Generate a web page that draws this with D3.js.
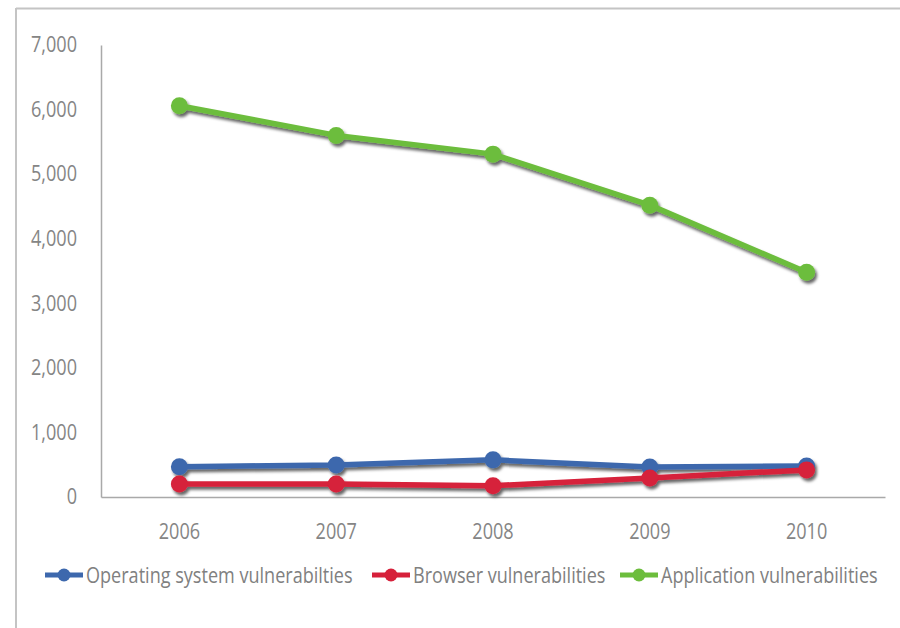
<!DOCTYPE html>
<html>
<head>
<meta charset="utf-8">
<script src="https://cdn.jsdelivr.net/npm/d3@7"></script>
<style>
  body { margin: 0; background: #fff; }
  svg { display: block; }
  text { font-family: "Open Sans", "DejaVu Sans", sans-serif; fill: #858585; }
</style>
</head>
<body>
<svg id="chart" width="900" height="628"></svg>
<script>
// Vulnerabilities per year, by type
const years = ["2006", "2007", "2008", "2009", "2010"];
const osValues = [470, 495, 575, 465, 480];
const browserValues = [200, 200, 175, 295, 420];
const appValues = [6060, 5600, 5310, 4520, 3480];
const yTicks = [0, 1000, 2000, 3000, 4000, 5000, 6000, 7000];
const seriesNames = ["Operating system vulnerabilties", "Browser vulnerabilities", "Application vulnerabilities"];
const seriesColors = ["#3d68ad", "#d6203a", "#6cbd3c"];

const series = [
  { name: seriesNames[0], color: seriesColors[0], values: osValues },
  { name: seriesNames[1], color: seriesColors[1], values: browserValues },
  { name: seriesNames[2], color: seriesColors[2], values: appValues }
];

const svg = d3.select("#chart");

// Narrow the text horizontally for a condensed look
function condense(sel, factor) {
  sel.each(function () {
    const w = this.getComputedTextLength();
    d3.select(this).attr("textLength", w * factor).attr("lengthAdjust", "spacingAndGlyphs");
  });
}

// Soft drop shadow under lines and markers
const defs = svg.append("defs");
const f = defs.append("filter").attr("id", "shadow")
  .attr("x", "-20%").attr("y", "-20%").attr("width", "140%").attr("height", "160%");
f.append("feDropShadow").attr("dx", 2).attr("dy", 3).attr("stdDeviation", 1.8)
  .attr("flood-color", "#000").attr("flood-opacity", 0.6);

// Outer frame (top and left edges)
svg.append("line").attr("x1", 16).attr("x2", 900).attr("y1", 8.5).attr("y2", 8.5)
  .attr("stroke", "#c4c4c4").attr("stroke-width", 2);
svg.append("line").attr("x1", 16).attr("x2", 16).attr("y1", 8).attr("y2", 628)
  .attr("stroke", "#c4c4c4").attr("stroke-width", 2);

const plot = { left: 101, right: 885, top: 45, bottom: 497 };

const x = d3.scaleBand().domain(years).range([plot.left, plot.right]);
const y = d3.scaleLinear().domain([0, 7000]).range([plot.bottom, plot.top]);

// Y axis
const yAxis = svg.append("g").attr("transform", `translate(${plot.left},0)`)
  .call(d3.axisLeft(y).tickValues(yTicks).tickSize(0).tickPadding(24)
    .tickFormat(d3.format(",")));
yAxis.select(".domain").attr("stroke", "#a9a9a9").attr("stroke-width", 1.5);
yAxis.selectAll("text").style("font-size", "21px").style("fill", "#858585")
  .call(condense, 0.86);

// X axis
const xAxis = svg.append("g").attr("transform", `translate(0,${plot.bottom})`)
  .call(d3.axisBottom(x).tickSize(0).tickPadding(27));
xAxis.select(".domain").attr("stroke", "#a9a9a9").attr("stroke-width", 1.5);
xAxis.selectAll("text").style("font-size", "21px").style("fill", "#858585")
  .call(condense, 0.86);

const cx = d => x(d) + x.bandwidth() / 2;
const line = d3.line().x((d, i) => cx(years[i])).y(d => y(d));

const g = svg.append("g").attr("filter", "url(#shadow)");
series.forEach(s => {
  const sg = g.append("g");
  sg.append("path").datum(s.values).attr("d", line)
    .attr("fill", "none").attr("stroke", s.color).attr("stroke-width", 5.5)
    .attr("stroke-linejoin", "round");
  sg.selectAll("circle").data(s.values).join("circle")
    .attr("cx", (d, i) => cx(years[i])).attr("cy", d => y(d))
    .attr("r", 8.5).attr("fill", s.color);
});

// Legend: swatch line with marker, then a horizontally narrowed label
const legendX = [45, 372, 620];
const legend = svg.append("g");
series.forEach((s, i) => {
  const lg = legend.append("g").attr("transform", `translate(${legendX[i]},575)`);
  lg.append("line").attr("x1", 0).attr("x2", 38).attr("y1", 0).attr("y2", 0)
    .attr("stroke", s.color).attr("stroke-width", 5);
  lg.append("circle").attr("cx", 19).attr("cy", 0).attr("r", 6.5).attr("fill", s.color);
  lg.append("g").attr("transform", "translate(41,0) scale(0.86,1)")
    .append("text").attr("x", 0).attr("y", 0).attr("dy", "0.36em")
    .style("font-size", "21px").style("fill", "#808080").text(s.name);
});
</script>
</body>
</html>
